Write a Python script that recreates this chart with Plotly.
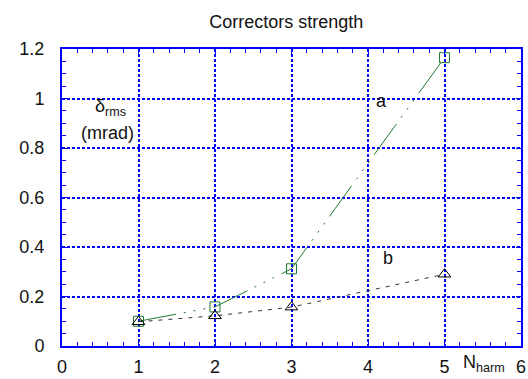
import plotly.graph_objects as go

n_harm = [1, 2, 3, 5]
a_vals = [0.10, 0.158, 0.312, 1.165]
b_vals = [0.098, 0.122, 0.157, 0.29]

x_ticks = [0, 1, 2, 3, 4, 5, 6]
y_ticks = [0, 0.2, 0.4, 0.6, 0.8, 1, 1.2]
y_labels = ["0", "0.2", "0.4", "0.6", "0.8", "1", "1.2"]

FONT = "Liberation Sans"
BLUE = "#0000ff"

fig = go.Figure()
fig.add_trace(go.Scatter(
    x=n_harm, y=a_vals, mode="lines+markers",
    line=dict(color="#1f7a30", width=1, dash="38px,8px,2px,8px,2px,8px,2px,8px"),
    marker=dict(symbol="square-open", size=10, color="#1f7a30", line=dict(width=1)),
    showlegend=False))
fig.add_trace(go.Scatter(
    x=n_harm, y=b_vals, mode="lines+markers",
    line=dict(color="#333333", width=1, dash="4px,6px"),
    marker=dict(symbol="triangle-up-open", size=11, color="#000000", line=dict(width=1)),
    showlegend=False))

axis_common = dict(
    showline=True, linecolor=BLUE, linewidth=2, mirror="ticks",
    showgrid=True, gridcolor=BLUE, gridwidth=1.5, griddash="3px,2px",
    ticks="inside", ticklen=5, tickcolor=BLUE, tickwidth=1,
    zeroline=False, automargin=False, ticklabeloverflow="allow",
    tickfont=dict(family=FONT, size=18, color="#111111"),
)

fig.update_xaxes(range=[0, 6], tickvals=x_ticks, ticktext=[str(v) for v in x_ticks],
                 minor=dict(ticks="inside", ticklen=4, tickcolor=BLUE, tickwidth=1,
                            dtick=0.2, showgrid=False),
                 ticklabelstandoff=3, **axis_common)
fig.update_yaxes(range=[0, 1.2], tickvals=y_ticks, ticktext=y_labels,
                 minor=dict(ticks="inside", ticklen=4, tickcolor=BLUE, tickwidth=1,
                            dtick=0.05, showgrid=False),
                 ticklabelstandoff=12, **axis_common)

ann_font = dict(family=FONT, size=18, color="#111111")
fig.add_annotation(x=0.4, y=0.965, text="δ<sub>rms</sub>", showarrow=False,
                   font=ann_font, xanchor="left", yanchor="middle")
fig.add_annotation(x=0.6, y=0.86, text="(mrad)", showarrow=False,
                   font=ann_font, xanchor="center", yanchor="middle")
fig.add_annotation(x=4.17, y=0.99, text="a", showarrow=False, font=ann_font)
fig.add_annotation(x=4.26, y=0.355, text="b", showarrow=False, font=ann_font)
fig.add_annotation(x=5.22, y=-0.015, yref="paper", text="N<sub>harm</sub>", showarrow=False,
                   font=ann_font, xanchor="left", yanchor="top")

fig.update_layout(
    width=528, height=379,
    margin=dict(l=62, r=7, t=49, b=33),
    paper_bgcolor="white", plot_bgcolor="white",
    title=dict(text="Correctors strength", x=0.542, xanchor="center", y=0.943, yanchor="middle",
               font=dict(family=FONT, size=18, color="#111111")),
)

fig.write_html(
    "out.html",
    config={"displayModeBar": False},
    post_script="document.body.style.margin='0';document.body.style.overflow='hidden';",
)
